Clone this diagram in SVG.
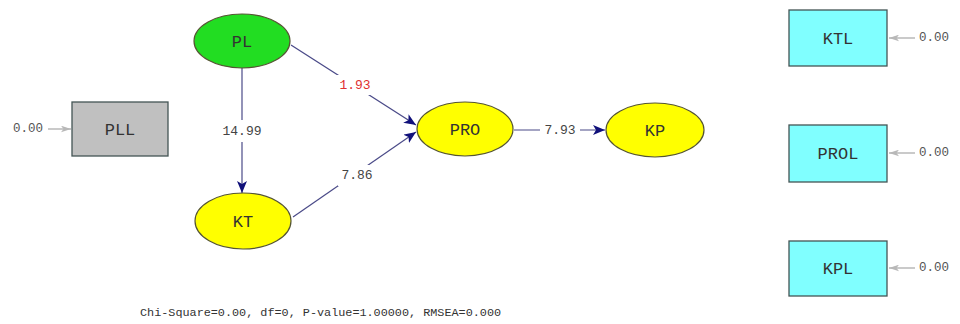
<svg xmlns="http://www.w3.org/2000/svg" width="960" height="324" viewBox="0 0 960 324">
<style>
.bg{fill:#ffffff}
.node{stroke:#555533;stroke-width:1.2}
.box{stroke:#445555;stroke-width:1.3}
.nl{font-family:"Liberation Mono","Courier New",monospace;font-size:17px;fill:#333333;text-anchor:middle;dominant-baseline:central}
.el{font-family:"Liberation Mono","Courier New",monospace;font-size:13px;fill:#444444;text-anchor:middle;dominant-baseline:central}
.gap{fill:#ffffff;stroke:none}
.path{stroke:#4a4a88;stroke-width:1.2;fill:none;marker-end:url(#ah)}
.err{stroke:#b8b8b8;stroke-width:1.5;fill:none;marker-end:url(#ag)}
.ev{font-family:"Liberation Mono","Courier New",monospace;font-size:12.5px;fill:#555555;dominant-baseline:central}
</style>
<defs>
<marker id="ah" viewBox="0 0 12 10" refX="12" refY="5" markerWidth="12" markerHeight="10" markerUnits="userSpaceOnUse" orient="auto">
<path d="M0,0 L12,5 L0,10 L3,5 Z" fill="#10107a"/>
</marker>
<marker id="ag" viewBox="0 0 12 8" refX="12" refY="4" markerWidth="10" markerHeight="7" markerUnits="userSpaceOnUse" orient="auto">
<path d="M0,0 L12,4 L0,8 L3,4 Z" fill="#b8b8b8"/>
</marker>
</defs>
<rect class="bg" x="0" y="0" width="960" height="324"/>
<g id="connectors">
<line class="path" x1="291" y1="45" x2="416" y2="125"/>
<line class="path" x1="242" y1="68" x2="242" y2="193"/>
<line class="path" x1="293" y1="217" x2="416" y2="132"/>
<line class="path" x1="514" y1="130" x2="605" y2="130"/>
<line class="err" x1="48" y1="129" x2="71" y2="129"/>
<line class="err" x1="915" y1="38" x2="889" y2="38"/>
<line class="err" x1="915" y1="153" x2="889" y2="153"/>
<line class="err" x1="915" y1="268" x2="889" y2="268"/>
<rect class="gap" x="336" y="75" width="38" height="20"/>
<rect class="gap" x="219" y="120" width="46" height="22"/>
<rect class="gap" x="338" y="165" width="38" height="21"/>
<rect class="gap" x="540" y="122" width="40" height="16"/>
<text class="el" x="355" y="85" style="fill:#e03030">1.93</text>
<text class="el" x="242" y="131">14.99</text>
<text class="el" x="357" y="175">7.86</text>
<text class="el" x="560" y="130">7.93</text>
<text class="ev" x="13" y="129">0.00</text>
<text class="ev" x="919" y="38">0.00</text>
<text class="ev" x="919" y="153">0.00</text>
<text class="ev" x="919" y="268">0.00</text>
</g>
<g id="PL"><ellipse class="node" cx="242" cy="41" rx="48" ry="27" fill="#22dd22"/><text class="nl" x="242" y="42">PL</text></g>
<g id="KT"><ellipse class="node" cx="243" cy="221" rx="48" ry="28" fill="#ffff00"/><text class="nl" x="243" y="222">KT</text></g>
<g id="PRO"><ellipse class="node" cx="465" cy="129" rx="48" ry="27" fill="#ffff00"/><text class="nl" x="465" y="130">PRO</text></g>
<g id="KP"><ellipse class="node" cx="655" cy="130" rx="49" ry="27" fill="#ffff00"/><text class="nl" x="655" y="131">KP</text></g>
<g id="PLL"><rect class="box" x="72" y="102" width="96" height="54" fill="#c0c0c0"/><text class="nl" x="120" y="130">PLL</text></g>
<g id="KTL"><rect class="box" x="789" y="10" width="98" height="56" fill="#80ffff"/><text class="nl" x="838" y="39">KTL</text></g>
<g id="PROL"><rect class="box" x="789" y="125" width="98" height="57" fill="#80ffff"/><text class="nl" x="838" y="154">PROL</text></g>
<g id="KPL"><rect class="box" x="789" y="241" width="98" height="55" fill="#80ffff"/><text class="nl" x="838" y="269">KPL</text></g>
<text x="140" y="313" style="font-family:'Liberation Mono','Courier New',monospace;font-size:11.8px;fill:#333333;dominant-baseline:central">Chi-Square=0.00, df=0, P-value=1.00000, RMSEA=0.000</text>
</svg>
